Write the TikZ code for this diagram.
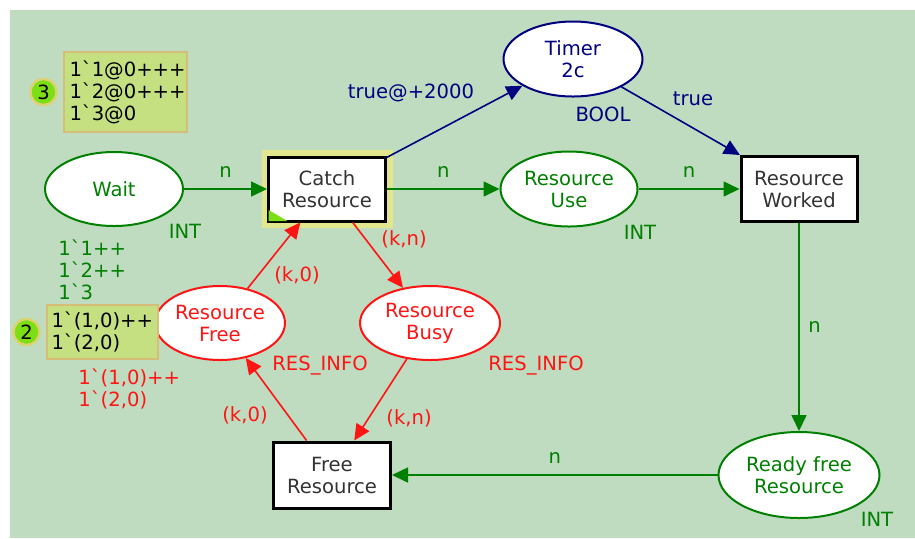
\documentclass[tikz,border=0pt]{standalone}
\usepackage{fontspec}
\setmainfont{DejaVu Sans}[Ligatures=TeXOff]
\usetikzlibrary{shapes.geometric}
\usetikzlibrary{arrows.meta}

\definecolor{bgcol}{RGB}{192,220,192}
\definecolor{pgreen}{RGB}{0,128,0}
\definecolor{pred}{RGB}{255,20,20}
\definecolor{pnavy}{RGB}{0,0,128}
\definecolor{tokfill}{RGB}{196,224,128}
\definecolor{tokdraw}{RGB}{214,190,120}
\definecolor{cntfill}{RGB}{124,222,20}
\definecolor{cntdraw}{RGB}{220,210,110}
\definecolor{hlcol}{RGB}{226,230,140}
\newcommand{\bq}{\symbol{96}}

\begin{document}
\begin{tikzpicture}[x=0.5pt, y=-0.5pt, thick, >={Triangle[length=8pt,width=7.5pt]},
    every node/.style={font=\fontsize{9.8}{11}\selectfont},
    place/.style={ellipse, draw, fill=white, line width=1pt, inner sep=0pt, align=center},
    transition/.style={rectangle, draw=black, fill=white, line width=1.5pt, inner sep=0pt, align=center, text=black!80},
    tokens/.style={rectangle, draw=tokdraw, fill=tokfill, line width=0.8pt, inner sep=0pt, align=left, text=black},
    counter/.style={circle, draw=cntdraw, fill=cntfill, line width=1.2pt, inner sep=0pt, minimum size=13pt}]
    \useasboundingbox (0,0) rectangle (915,538);
    \fill[bgcol] (10,10) rectangle (915,538);

    % Miejsca
    \node (wait) [place, draw=pgreen, text=pgreen, minimum width=69pt, minimum height=37pt] at (114,189) {Wait};
    \node (timer) [place, draw=pnavy, text=pnavy, minimum width=69.5pt, minimum height=37.5pt] at (573,59) {Timer\\2c};
    \node (use) [place, draw=pgreen, text=pgreen, minimum width=68.5pt, minimum height=37.5pt] at (569,189) {Resource\\Use};
    \node (ready) [place, draw=pgreen, text=pgreen, minimum width=80.5pt, minimum height=43pt] at (799,475) {Ready free\\Resource};
    \node (free) [place, draw=pred, text=pred, minimum width=65pt, minimum height=37pt] at (220,323) {Resource\\Free};
    \node (busy) [place, draw=pred, text=pred, minimum width=70pt, minimum height=37pt] at (430,323) {Resource\\Busy};

    % Przejścia
    \node (catch) [transition, minimum width=58.5pt, minimum height=32pt, preaction={draw=hlcol, line width=7pt}] at (327,189) {Catch\\Resource};
    \fill[cntfill] ([shift={(1.5,-1.5)}]catch.south west) -- ++(19,0) -- ++(-19,-11) -- cycle;
    \node (worked) [transition, minimum width=58pt, minimum height=32.5pt] at (799,189) {Resource\\Worked};
    \node (release) [transition, minimum width=58.5pt, minimum height=33pt] at (332,475) {Free\\Resource};

    % Znaczniki
    \node (tok1) [tokens, minimum width=61.5pt, minimum height=40pt, text width=56pt] at (125.5,92) {1\bq1@0+++\\1\bq2@0+++\\1\bq3@0};
    \node (cnt1) [counter, left of=tok1, node distance=41pt] {3};
    \node (tok2) [tokens, minimum width=55.5pt, minimum height=27pt, text width=51pt] at (102.5,332) {1\bq(1,0)++\\1\bq(2,0)};
    \node (cnt2) [counter, left of=tok2, node distance=38pt] {2};

    % Typy i znakowanie początkowe
    \node (waittype) [text=pgreen] at (185,231) {INT};
    \node (waitinit) [text=pgreen, align=left, anchor=west] at (51,270) {1\bq1++\\1\bq2++\\1\bq3};
    \node (usetype) [text=pgreen] at (640,232) {INT};
    \node (readytype) [text=pgreen] at (877,519) {INT};
    \node (timertype) [text=pnavy] at (603,114) {BOOL};
    \node (freetype) [text=pred] at (320,366) {RES\_INFO};
    \node (busytype) [text=pred] at (536,366) {RES\_INFO};
    \node (freeinit) [text=pred, align=left, anchor=west] at (71,389) {1\bq(1,0)++\\1\bq(2,0)};

    % Łuki
    \draw[->, pgreen] (wait) -- node[above, yshift=2pt] {n} (catch);
    \draw[->, pgreen] (catch) -- node[above, yshift=2pt] {n} (use);
    \draw[->, pgreen] (use) -- node[above, yshift=2pt] {n} (worked);
    \draw[->, pgreen] (worked) -- node[right, xshift=1pt] {n} (ready);
    \draw[->, pgreen] (ready) -- node[above, yshift=2pt] {n} (release);
    \draw[->, pnavy] (catch) -- (timer);
    \draw[->, pnavy] (timer) -- (worked);
    \node (timerout) [text=pnavy] at (411,93) {true@+2000};
    \node (timerin) [text=pnavy] at (693,99) {true};
    \draw[->, pred] (free) -- (catch);
    \draw[->, pred] (catch) -- (busy);
    \draw[->, pred] (busy) -- (release);
    \draw[->, pred] (release) -- (free);
    \node (freeout) [text=pred] at (297,275) {(k,0)};
    \node (busyin) [text=pred] at (404,239) {(k,n)};
    \node (busyout) [text=pred] at (409,418) {(k,n)};
    \node (freein) [text=pred] at (245,415) {(k,0)};
\end{tikzpicture}
\end{document}
